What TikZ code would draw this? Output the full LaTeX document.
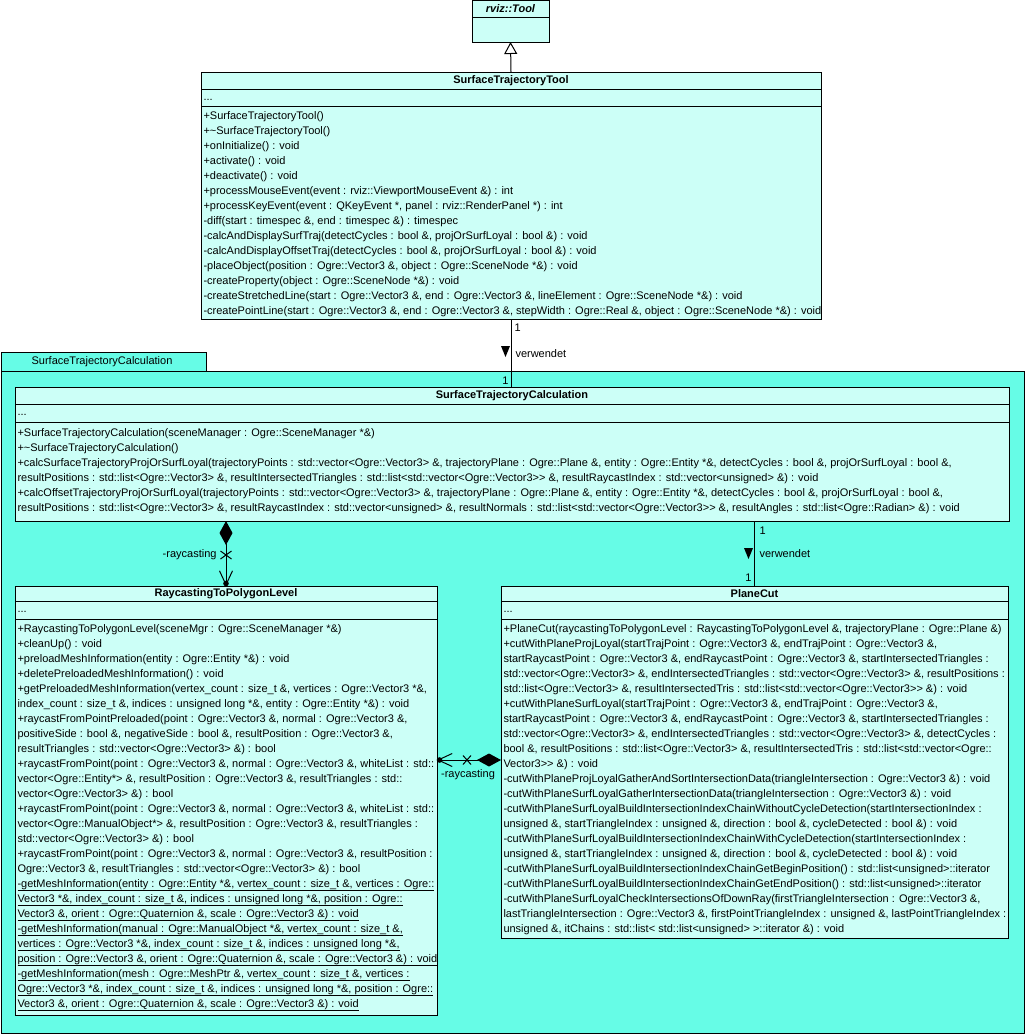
\documentclass[tikz,border=0pt]{standalone}
\usepackage{fontspec}
\setmainfont{Liberation Sans}
\usetikzlibrary{arrows.meta, positioning}

\definecolor{pkgcyan}{RGB}{102,252,230}
\definecolor{clsfill}{RGB}{204,255,247}
% ">>" ohne Guillemet-Ligatur
\newcommand{\dgt}{>\kern0pt>}

\begin{document}
\begin{tikzpicture}[x=1pt, y=-1pt, line width=1pt,
    classbox/.style={draw, fill=clsfill, inner sep=0pt, outer sep=0pt, anchor=north west},
    umltext/.style={inner sep=0pt, font=\fontsize{11}{15}\selectfont},
    optext/.style={umltext, anchor=base west},
    titletext/.style={inner sep=0pt, font=\fontsize{11}{15}\selectfont\bfseries}]
  \useasboundingbox (0,0) rectangle (1026,1036);

  % --- Paket SurfaceTrajectoryCalculation ---
  \node[draw, fill=pkgcyan, inner sep=0pt, anchor=north west, minimum width=205pt, minimum height=19pt] (pkgtab) at (0.5,352) {};
  \node[umltext] (pkglabel) at (102,362) {SurfaceTrajectoryCalculation};
  \node[draw, fill=pkgcyan, inner sep=0pt, anchor=north west, minimum width=1023pt, minimum height=662pt] (pkg) at (0.5,371) {};

  % --- rviz::Tool ---
  \node[classbox, minimum width=77pt, minimum height=42pt] (tool) at (472,0) {};
  \draw ([yshift=-17pt]tool.north west) -- ([yshift=-17pt]tool.north east);
  \node[titletext, font=\fontsize{11}{15}\selectfont\bfseries\itshape] (tooltitle) at (510.5,9) {rviz::Tool};

  % --- SurfaceTrajectoryTool ---
  \node[classbox, minimum width=620pt, minimum height=247pt] (sttool) at (201,72) {};
  \draw ([yshift=-17pt]sttool.north west) -- ([yshift=-17pt]sttool.north east);
  \draw ([yshift=-34pt]sttool.north west) -- ([yshift=-34pt]sttool.north east);
  \node[titletext] (sttooltitle) at (511,81) {SurfaceTrajectoryTool};
  \node[optext] (sttoolattr) at (203,100) {...};
  \foreach \opline [count=\i from 0] in {
      {+SurfaceTrajectoryTool()},
      {+\textasciitilde SurfaceTrajectoryTool()},
      {+onInitialize() : void},
      {+activate() : void},
      {+deactivate() : void},
      {+processMouseEvent(event : rviz::ViewportMouseEvent \&) : int},
      {+processKeyEvent(event : QKeyEvent *, panel : rviz::RenderPanel *) : int},
      {-diff(start : timespec \&, end : timespec \&) : timespec},
      {-calcAndDisplaySurfTraj(detectCycles : bool \&, projOrSurfLoyal : bool \&) : void},
      {-calcAndDisplayOffsetTraj(detectCycles : bool \&, projOrSurfLoyal : bool \&) : void},
      {-placeObject(position : Ogre::Vector3 \&, object : Ogre::SceneNode *\&) : void},
      {-createProperty(object : Ogre::SceneNode *\&) : void},
      {-createStretchedLine(start : Ogre::Vector3 \&, end : Ogre::Vector3 \&, lineElement : Ogre::SceneNode *\&) : void},
      {-createPointLine(start : Ogre::Vector3 \&, end : Ogre::Vector3 \&, stepWidth : Ogre::Real \&, object : Ogre::SceneNode *\&) : void}}
    \node[optext] (sttoolop-\i) at (203,{119+15*\i}) {\opline};

  % --- SurfaceTrajectoryCalculation ---
  \node[classbox, minimum width=994pt, minimum height=134pt] (stc) at (15,387) {};
  \draw ([yshift=-17pt]stc.north west) -- ([yshift=-17pt]stc.north east);
  \draw ([yshift=-35pt]stc.north west) -- ([yshift=-35pt]stc.north east);
  \node[titletext] (stctitle) at (512,396) {SurfaceTrajectoryCalculation};
  \node[optext] (stcattr) at (17,415) {...};
  \foreach \opline [count=\i from 0] in {
      {+SurfaceTrajectoryCalculation(sceneManager : Ogre::SceneManager *\&)},
      {+\textasciitilde SurfaceTrajectoryCalculation()},
      {+calcSurfaceTrajectoryProjOrSurfLoyal(trajectoryPoints : std::vector<Ogre::Vector3> \&, trajectoryPlane : Ogre::Plane \&, entity : Ogre::Entity *\&, detectCycles : bool \&, projOrSurfLoyal : bool \&,},
      {resultPositions : std::list<Ogre::Vector3> \&, resultIntersectedTriangles : std::list<std::vector<Ogre::Vector3\dgt{} \&, resultRaycastIndex : std::vector<unsigned> \&) : void},
      {+calcOffsetTrajectoryProjOrSurfLoyal(trajectoryPoints : std::vector<Ogre::Vector3> \&, trajectoryPlane : Ogre::Plane \&, entity : Ogre::Entity *\&, detectCycles : bool \&, projOrSurfLoyal : bool \&,},
      {resultPositions : std::list<Ogre::Vector3> \&, resultRaycastIndex : std::vector<unsigned> \&, resultNormals : std::list<std::vector<Ogre::Vector3\dgt{} \&, resultAngles : std::list<Ogre::Radian> \&) : void}}
    \node[optext] (stcop-\i) at (17,{436+15*\i}) {\opline};

  % --- RaycastingToPolygonLevel ---
  \node[classbox, minimum width=422pt, minimum height=429pt] (rtpl) at (15,586) {};
  \draw ([yshift=-15pt]rtpl.north west) -- ([yshift=-15pt]rtpl.north east);
  \draw ([yshift=-33pt]rtpl.north west) -- ([yshift=-33pt]rtpl.north east);
  \node[titletext] (rtpltitle) at (226,594) {RaycastingToPolygonLevel};
  \node[optext] (rtplattr) at (17,612) {...};
  \foreach \opline [count=\i from 0] in {
      {+RaycastingToPolygonLevel(sceneMgr : Ogre::SceneManager *\&)},
      {+cleanUp() : void},
      {+preloadMeshInformation(entity : Ogre::Entity *\&) : void},
      {+deletePreloadedMeshInformation() : void},
      {+getPreloadedMeshInformation(vertex\_count : size\_t \&, vertices : Ogre::Vector3 *\&,},
      {index\_count : size\_t \&, indices : unsigned long *\&, entity : Ogre::Entity *\&) : void},
      {+raycastFromPointPreloaded(point : Ogre::Vector3 \&, normal : Ogre::Vector3 \&,},
      {positiveSide : bool \&, negativeSide : bool \&, resultPosition : Ogre::Vector3 \&,},
      {resultTriangles : std::vector<Ogre::Vector3> \&) : bool},
      {+raycastFromPoint(point : Ogre::Vector3 \&, normal : Ogre::Vector3 \&, whiteList : std::},
      {vector<Ogre::Entity*> \&, resultPosition : Ogre::Vector3 \&, resultTriangles : std::},
      {vector<Ogre::Vector3> \&) : bool},
      {+raycastFromPoint(point : Ogre::Vector3 \&, normal : Ogre::Vector3 \&, whiteList : std::},
      {vector<Ogre::ManualObject*> \&, resultPosition : Ogre::Vector3 \&, resultTriangles :},
      {std::vector<Ogre::Vector3> \&) : bool},
      {+raycastFromPoint(point : Ogre::Vector3 \&, normal : Ogre::Vector3 \&, resultPosition :},
      {Ogre::Vector3 \&, resultTriangles : std::vector<Ogre::Vector3> \&) : bool},
      {\underline{-getMeshInformation(entity : Ogre::Entity *\&, vertex\_count : size\_t \&, vertices : Ogre::}},
      {\underline{Vector3 *\&, index\_count : size\_t \&, indices : unsigned long *\&, position : Ogre::}},
      {\underline{Vector3 \&, orient : Ogre::Quaternion \&, scale : Ogre::Vector3 \&) : void}},
      {\underline{-getMeshInformation(manual : Ogre::ManualObject *\&, vertex\_count : size\_t \&,}},
      {\underline{vertices : Ogre::Vector3 *\&, index\_count : size\_t \&, indices : unsigned long *\&,}},
      {\underline{position : Ogre::Vector3 \&, orient : Ogre::Quaternion \&, scale : Ogre::Vector3 \&) : void}},
      {\underline{-getMeshInformation(mesh : Ogre::MeshPtr \&, vertex\_count : size\_t \&, vertices :}},
      {\underline{Ogre::Vector3 *\&, index\_count : size\_t \&, indices : unsigned long *\&, position : Ogre::}},
      {\underline{Vector3 \&, orient : Ogre::Quaternion \&, scale : Ogre::Vector3 \&) : void}}}
    \node[optext] (rtplop-\i) at (17,{632+15*\i}) {\opline};

  % --- PlaneCut ---
  \node[classbox, minimum width=507pt, minimum height=352pt] (pcut) at (501,586) {};
  \draw ([yshift=-15pt]pcut.north west) -- ([yshift=-15pt]pcut.north east);
  \draw ([yshift=-33pt]pcut.north west) -- ([yshift=-33pt]pcut.north east);
  \node[titletext] (pcuttitle) at (754.5,594) {PlaneCut};
  \node[optext] (pcutattr) at (503,612) {...};
  \foreach \opline [count=\i from 0] in {
      {+PlaneCut(raycastingToPolygonLevel : RaycastingToPolygonLevel \&, trajectoryPlane : Ogre::Plane \&)},
      {+cutWithPlaneProjLoyal(startTrajPoint : Ogre::Vector3 \&, endTrajPoint : Ogre::Vector3 \&,},
      {startRaycastPoint : Ogre::Vector3 \&, endRaycastPoint : Ogre::Vector3 \&, startIntersectedTriangles :},
      {std::vector<Ogre::Vector3> \&, endIntersectedTriangles : std::vector<Ogre::Vector3> \&, resultPositions :},
      {std::list<Ogre::Vector3> \&, resultIntersectedTris : std::list<std::vector<Ogre::Vector3\dgt{} \&) : void},
      {+cutWithPlaneSurfLoyal(startTrajPoint : Ogre::Vector3 \&, endTrajPoint : Ogre::Vector3 \&,},
      {startRaycastPoint : Ogre::Vector3 \&, endRaycastPoint : Ogre::Vector3 \&, startIntersectedTriangles :},
      {std::vector<Ogre::Vector3> \&, endIntersectedTriangles : std::vector<Ogre::Vector3> \&, detectCycles :},
      {bool \&, resultPositions : std::list<Ogre::Vector3> \&, resultIntersectedTris : std::list<std::vector<Ogre::},
      {Vector3\dgt{} \&) : void},
      {-cutWithPlaneProjLoyalGatherAndSortIntersectionData(triangleIntersection : Ogre::Vector3 \&) : void},
      {-cutWithPlaneSurfLoyalGatherIntersectionData(triangleIntersection : Ogre::Vector3 \&) : void},
      {-cutWithPlaneSurfLoyalBuildIntersectionIndexChainWithoutCycleDetection(startIntersectionIndex :},
      {unsigned \&, startTriangleIndex : unsigned \&, direction : bool \&, cycleDetected : bool \&) : void},
      {-cutWithPlaneSurfLoyalBuildIntersectionIndexChainWithCycleDetection(startIntersectionIndex :},
      {unsigned \&, startTriangleIndex : unsigned \&, direction : bool \&, cycleDetected : bool \&) : void},
      {-cutWithPlaneSurfLoyalBuildIntersectionIndexChainGetBeginPosition() : std::list<unsigned>::iterator},
      {-cutWithPlaneSurfLoyalBuildIntersectionIndexChainGetEndPosition() : std::list<unsigned>::iterator},
      {-cutWithPlaneSurfLoyalCheckIntersectionsOfDownRay(firstTriangleIntersection : Ogre::Vector3 \&,},
      {lastTriangleIntersection : Ogre::Vector3 \&, firstPointTriangleIndex : unsigned \&, lastPointTriangleIndex :},
      {unsigned \&, itChains : std::list< std::list<unsigned> >::iterator \&) : void}}
    \node[optext] (pcutop-\i) at (503,{632+15*\i}) {\opline};

  % --- Generalisierung ---
  \draw[-{Triangle[open, length=12pt, width=13pt]}] (sttool.north) -- (tool.south);

  % --- Assoziation SurfaceTrajectoryTool -> SurfaceTrajectoryCalculation ---
  \coordinate (a1) at (sttool.south |- stc.north);
  \draw (sttool.south) -- (a1);
  \node[umltext, anchor=west] (a1top) at (514,328) {1};
  \node[umltext, anchor=east] (a1bot) at (509,381) {1};
  \node[umltext, anchor=west] (a1name) at (515,354) {verwendet};
  \fill (501,346) -- (510,346) -- (505.5,357) -- cycle;

  % --- Assoziation SurfaceTrajectoryCalculation -> PlaneCut ---
  \coordinate (a2) at (pcut.north |- stc.south);
  \draw (a2) -- (pcut.north);
  \node[umltext, anchor=west] (a2top) at (759,531) {1};
  \node[umltext, anchor=east] (a2bot) at (752,578) {1};
  \node[umltext, anchor=west] (a2name) at (759,554) {verwendet};
  \fill (744,548) -- (753,548) -- (748.5,559) -- cycle;

  % --- Komposition SurfaceTrajectoryCalculation -> RaycastingToPolygonLevel ---
  \coordinate (c1) at (rtpl.north |- stc.south);
  \draw[{Diamond[length=24pt, width=13pt]}-{Straight Barb[length=14pt, width=13pt]}] (c1) -- (rtpl.north);
  \draw (220.5,551) -- (231.5,559) (220.5,559) -- (231.5,551);
  \fill ([yshift=2.5pt]rtpl.north) circle (2.8pt);
  \node[umltext, anchor=east] (c1name) at (217,555) {-raycasting};

  % --- Komposition PlaneCut -> RaycastingToPolygonLevel ---
  \coordinate (c2) at ([yshift=2pt]pcut.west);
  \coordinate (c2e) at (c2 -| rtpl.east);
  \draw[{Diamond[length=24pt, width=13pt]}-{Straight Barb[length=14pt, width=13pt]}] (c2) -- (c2e);
  \draw (463,755.5) -- (471,764.5) (463,764.5) -- (471,755.5);
  \fill ([xshift=2.5pt]c2e) circle (2.8pt);
  \node[umltext] (c2name) at (468,775) {-raycasting};
\end{tikzpicture}
\end{document}
